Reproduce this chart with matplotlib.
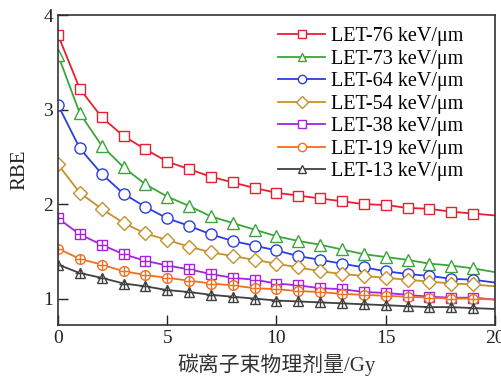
import matplotlib
matplotlib.use("Agg")
import matplotlib.pyplot as plt
import numpy as np

plt.rcParams['font.family'] = ['Liberation Serif', 'Noto Sans CJK SC']
plt.rcParams['mathtext.fontset'] = 'stix'

# dose (Gy), markers at 0..19, line runs to 20
dose = np.arange(0, 21)

labels = ["LET-76 keV/\u03bcm", "LET-73 keV/\u03bcm", "LET-64 keV/\u03bcm",
          "LET-54 keV/\u03bcm", "LET-38 keV/\u03bcm", "LET-19 keV/\u03bcm",
          "LET-13 keV/\u03bcm"]

rbe_76 = [3.79, 3.22, 2.92, 2.72, 2.58, 2.45, 2.37, 2.29, 2.23, 2.17, 2.12,
          2.09, 2.06, 2.03, 2.00, 1.99, 1.96, 1.95, 1.92, 1.90, 1.88]
rbe_73 = [3.58, 2.96, 2.62, 2.39, 2.21, 2.08, 1.98, 1.87, 1.80, 1.73, 1.66,
          1.61, 1.57, 1.52, 1.47, 1.44, 1.41, 1.37, 1.35, 1.32, 1.28]
rbe_64 = [3.05, 2.59, 2.32, 2.11, 1.97, 1.85, 1.77, 1.68, 1.61, 1.56, 1.51,
          1.45, 1.41, 1.37, 1.33, 1.29, 1.26, 1.24, 1.21, 1.20, 1.17]
rbe_54 = [2.42, 2.12, 1.95, 1.80, 1.69, 1.62, 1.55, 1.49, 1.45, 1.41, 1.37,
          1.33, 1.29, 1.26, 1.24, 1.22, 1.20, 1.18, 1.16, 1.15, 1.13]
rbe_38 = [1.85, 1.68, 1.57, 1.47, 1.40, 1.35, 1.31, 1.26, 1.22, 1.20, 1.16,
          1.14, 1.11, 1.10, 1.07, 1.06, 1.04, 1.02, 1.01, 1.01, 0.99]
rbe_19 = [1.53, 1.42, 1.36, 1.29, 1.25, 1.22, 1.19, 1.16, 1.14, 1.11, 1.10,
          1.08, 1.07, 1.05, 1.04, 1.03, 1.02, 1.01, 1.00, 1.00, 0.99]
rbe_13 = [1.36, 1.27, 1.22, 1.16, 1.13, 1.09, 1.07, 1.04, 1.02, 1.00, 0.98,
          0.97, 0.96, 0.95, 0.94, 0.93, 0.92, 0.91, 0.91, 0.90, 0.89]

series = [rbe_76, rbe_73, rbe_64, rbe_54, rbe_38, rbe_19, rbe_13]
colors = ["#e8202e", "#3aa63a", "#2a3fe0", "#c8902a", "#a424e0", "#f07020", "#404040"]
markers = ["s", "^", "o", "D", "s", "o", "^"]
msizes = [7, 8, 8, 7, 6.5, 7, 7]
cross = [False, False, False, False, True, True, True]

fig = plt.figure(figsize=(5.02, 3.78), dpi=100)
ax = fig.add_axes([0.1155, 0.140, 0.8705, 0.820])

for y, c, m, ms, cr, lab in zip(series, colors, markers, msizes, cross, labels):
    ax.plot(dose, y, color=c, lw=1.3, marker=m, ms=ms, mfc="white",
            mec=c, mew=1.0, markevery=slice(0, 20), label=lab)
    if cr:
        ax.plot(dose[:20], y[:20], ls="none", marker="+", ms=ms, mec=c, mew=1.0)

ax.set_xlim(0, 20)
ax.set_ylim(0.72, 4.0)
ax.set_xticks([0, 5, 10, 15, 20])
ax.set_yticks([1, 2, 3, 4])
ax.tick_params(direction="in", length=7, width=1, labelsize=14, colors="#222222",
               top=False, right=False)
for s in ax.spines.values():
    s.set_color("#333333")
    s.set_linewidth(1.2)

ax.set_xlabel("碳离子束物理剂量/Gy", fontsize=15, color="#333333", labelpad=5)
ax.set_ylabel("RBE", fontsize=15, color="#222222", labelpad=10)

leg = ax.legend(loc="upper right", bbox_to_anchor=(0.955, 1.0), frameon=False,
                fontsize=14.5, handlelength=2.3, handletextpad=0.3,
                labelspacing=0.17, borderaxespad=0.2)
for h in leg.legend_handles:
    h.set_markersize(6)

fig.savefig("out.png", dpi=100)
